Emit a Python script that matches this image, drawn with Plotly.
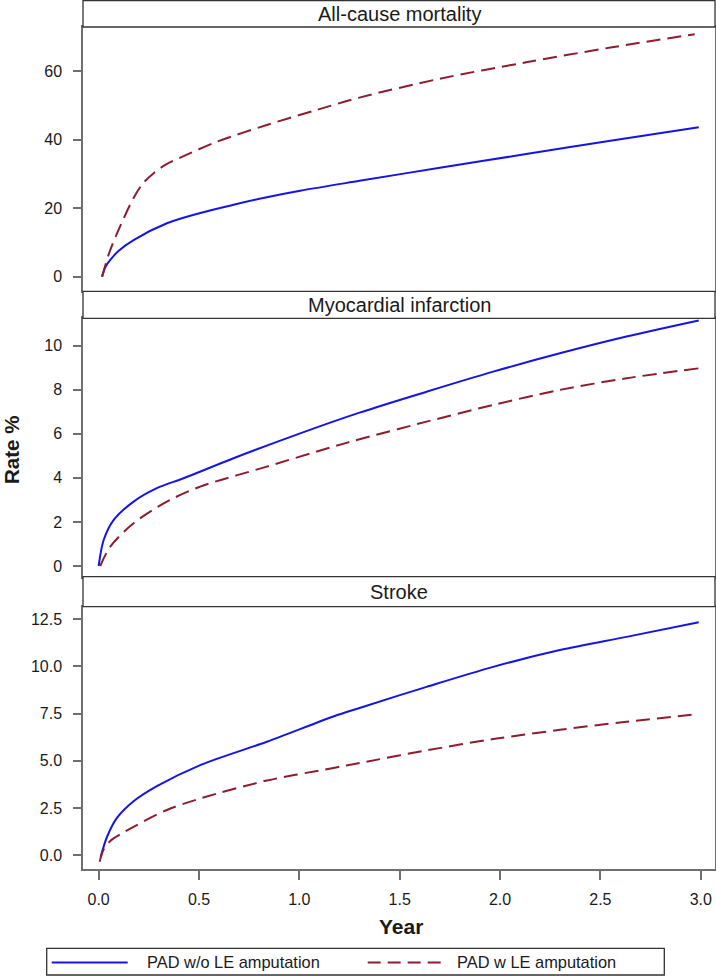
import plotly.graph_objects as go

# ---------------- data ----------------
panel_titles = ["All-cause mortality", "Myocardial infarction", "Stroke"]
series_names = ["PAD w/o LE amputation", "PAD w LE amputation"]

# All-cause mortality
acm_wo_year = [0.017, 0.035, 0.058, 0.10, 0.174, 0.34, 0.506, 0.672, 0.838, 1.004, 1.30, 1.70, 2.13, 2.55, 2.99]
acm_wo_rate = [0.0, 3.0, 4.9, 7.6, 10.7, 15.6, 18.6, 21.0, 23.2, 25.1, 28.0, 31.8, 35.8, 39.7, 43.6]
acm_w_year = [0.017, 0.05, 0.092, 0.174, 0.22, 0.274, 0.33, 0.423, 0.589, 0.838, 1.087, 1.294, 1.70, 2.13, 2.55, 2.97]
acm_w_rate = [0.0, 6.5, 12.7, 23.0, 27.2, 30.2, 32.6, 35.2, 39.4, 44.3, 48.7, 52.2, 57.8, 62.6, 66.9, 70.8]

# Myocardial infarction
mi_wo_year = [0.0, 0.025, 0.075, 0.174, 0.29, 0.423, 0.672, 1.004, 1.30, 1.634, 1.966, 2.298, 2.63, 2.99]
mi_wo_rate = [0.0, 1.18, 2.09, 2.92, 3.53, 3.98, 4.89, 6.02, 6.96, 7.91, 8.82, 9.65, 10.41, 11.14]
mi_w_year = [0.008, 0.058, 0.174, 0.34, 0.506, 0.838, 1.17, 1.30, 1.634, 1.966, 2.298, 2.63, 2.99]
mi_w_rate = [0.0, 0.88, 1.94, 2.92, 3.60, 4.51, 5.42, 5.75, 6.55, 7.31, 7.99, 8.52, 8.97]

# Stroke
st_wo_year = [0.01, 0.042, 0.092, 0.174, 0.29, 0.506, 0.838, 1.17, 1.30, 1.634, 1.966, 2.298, 2.63, 2.99]
st_wo_rate = [-0.1, 0.97, 1.98, 2.85, 3.65, 4.77, 6.01, 7.35, 7.80, 8.92, 9.98, 10.87, 11.57, 12.34]
st_w_year = [0.005, 0.025, 0.058, 0.108, 0.174, 0.34, 0.506, 0.838, 1.17, 1.30, 1.634, 1.966, 2.298, 2.63, 2.99]
st_w_rate = [-0.35, 0.3, 0.75, 1.1, 1.5, 2.39, 3.0, 3.95, 4.62, 4.88, 5.55, 6.15, 6.64, 7.07, 7.48]

x_ticks = [0.0, 0.5, 1.0, 1.5, 2.0, 2.5, 3.0]
y_ticks_acm = [0, 20, 40, 60]
y_ticks_mi = [0, 2, 4, 6, 8, 10]
y_ticks_st = [0.0, 2.5, 5.0, 7.5, 10.0, 12.5]

# ---------------- styling ----------------
FONT = "Liberation Sans, Arial, sans-serif"
BLUE = "#1414e6"
RED = "#8c1c2e"
AXC = "#6f6f6f"
STRIPC = "#333333"
TXT = "#1a1a1a"

W, H = 716, 976
ML, MR, MT, MB = 83, 1, 0, 107
PW = W - ML - MR
PH = H - MT - MB


def py(ypx):
    """pixel row (from top of figure) -> paper y"""
    return (PH - (ypx - MT)) / PH


def px(xpx):
    return (xpx - ML) / PW


panels = [
    dict(dom=[py(291.3), py(27)], strip=[py(27), py(0.6)], rng=[-4.26, 72.9], ticks=y_ticks_acm, fmt="d",
         data=[(acm_wo_year, acm_wo_rate), (acm_w_year, acm_w_rate)]),
    dict(dom=[py(576.7), py(318.3)], strip=[py(318.3), py(291.3)], rng=[-0.486, 11.24], ticks=y_ticks_mi, fmt="d",
         data=[(mi_wo_year, mi_wo_rate), (mi_w_year, mi_w_rate)]),
    dict(dom=[0.0, py(606.7)], strip=[py(606.7), py(576.7)], rng=[-0.74, 13.17], ticks=y_ticks_st, fmt=".1f",
         data=[(st_wo_year, st_wo_rate), (st_w_year, st_w_rate)]),
]

fig = go.Figure()
layout = dict(
    width=W, height=H,
    margin=dict(l=ML, r=MR, t=MT, b=MB, pad=0),
    paper_bgcolor="white", plot_bgcolor="white",
    font=dict(family=FONT, size=16, color=TXT),
    showlegend=False,
)

shapes = []
annotations = []
XR = [-0.078, 3.071]

for i, p in enumerate(panels, start=1):
    xa = "x" if i == 1 else f"x{i}"
    ya = "y" if i == 1 else f"y{i}"
    for (xs, ys), name, color, dash in zip(p["data"], series_names, [BLUE, RED], ["solid", "14px,7px"]):
        fig.add_trace(go.Scatter(
            x=xs, y=ys, mode="lines", name=name, xaxis=xa, yaxis=ya,
            line=dict(color=color, width=2, dash=dash, shape="spline", smoothing=0.9),
            showlegend=False,
        ))
    bottom = (i == 3)
    layout["xaxis" if i == 1 else f"xaxis{i}"] = dict(
        domain=[0, 1], range=XR, anchor=ya,
        showgrid=False, zeroline=False,
        showline=True, mirror=True, linecolor=AXC, linewidth=1.5,
        ticks="outside" if bottom else "", ticklen=9, tickwidth=1.5, tickcolor=AXC,
        tickvals=x_ticks, tickformat=".1f",
        showticklabels=bottom, ticklabelstandoff=6,
        tickfont=dict(family=FONT, size=16, color=TXT),
        **({} if i == 3 else {"matches": "x3"}),
    )
    layout["yaxis" if i == 1 else f"yaxis{i}"] = dict(
        domain=p["dom"], range=p["rng"], anchor=xa,
        showgrid=False, zeroline=False,
        showline=True, mirror=True, linecolor=AXC, linewidth=1.5,
        ticks="outside", ticklen=8, tickwidth=1.5, tickcolor=AXC,
        tickvals=p["ticks"], tickformat=p["fmt"], ticklabelstandoff=8,
        tickfont=dict(family=FONT, size=16, color=TXT),
    )
    shapes.append(dict(type="rect", xref="paper", yref="paper", x0=0, x1=1,
                       y0=p["strip"][0], y1=p["strip"][1],
                       line=dict(color=STRIPC, width=1.3), fillcolor="white", layer="above"))
    annotations.append(dict(text=panel_titles[i - 1], xref="paper", yref="paper",
                            x=0.5, y=(p["strip"][0] + p["strip"][1]) / 2,
                            xanchor="center", yanchor="middle", showarrow=False,
                            font=dict(family=FONT, size=20, color=TXT)))

# axis titles
annotations.append(dict(text="<b>Year</b>", xref="paper", yref="paper", x=px(401), y=py(926.7),
                        xanchor="center", yanchor="middle", showarrow=False,
                        font=dict(family=FONT, size=21, color=TXT)))
annotations.append(dict(text="<b>Rate %</b>", xref="paper", yref="paper", x=px(12), y=py(450),
                        xanchor="center", yanchor="middle", showarrow=False, textangle=-90,
                        font=dict(family=FONT, size=20.5, color=TXT)))

# legend box drawn beneath the plot
shapes.append(dict(type="rect", xref="paper", yref="paper", x0=px(46.7), x1=px(664.3),
                   y0=py(975), y1=py(948.3), line=dict(color=STRIPC, width=1.3), fillcolor="white"))
for (x0, x1, tx), name, color, dash in zip([(51.7, 127.7, 145), (367.7, 443.3, 455)], series_names,
                                          [BLUE, RED], ["solid", "13px,7px"]):
    shapes.append(dict(type="line", xref="paper", yref="paper", x0=px(x0), x1=px(x1),
                       y0=py(962.5), y1=py(962.5), line=dict(color=color, width=2, dash=dash)))
    annotations.append(dict(text=name, xref="paper", yref="paper", x=px(tx), y=py(962),
                            xanchor="left", yanchor="middle", showarrow=False,
                            font=dict(family=FONT, size=16.4, color=TXT)))

layout["shapes"] = shapes
layout["annotations"] = annotations
fig.update_layout(**layout)
fig.write_html(
    "out.html",
    config={"displayModeBar": False},
    post_script="document.body.style.margin='0px';document.body.style.overflow='hidden';",
)
